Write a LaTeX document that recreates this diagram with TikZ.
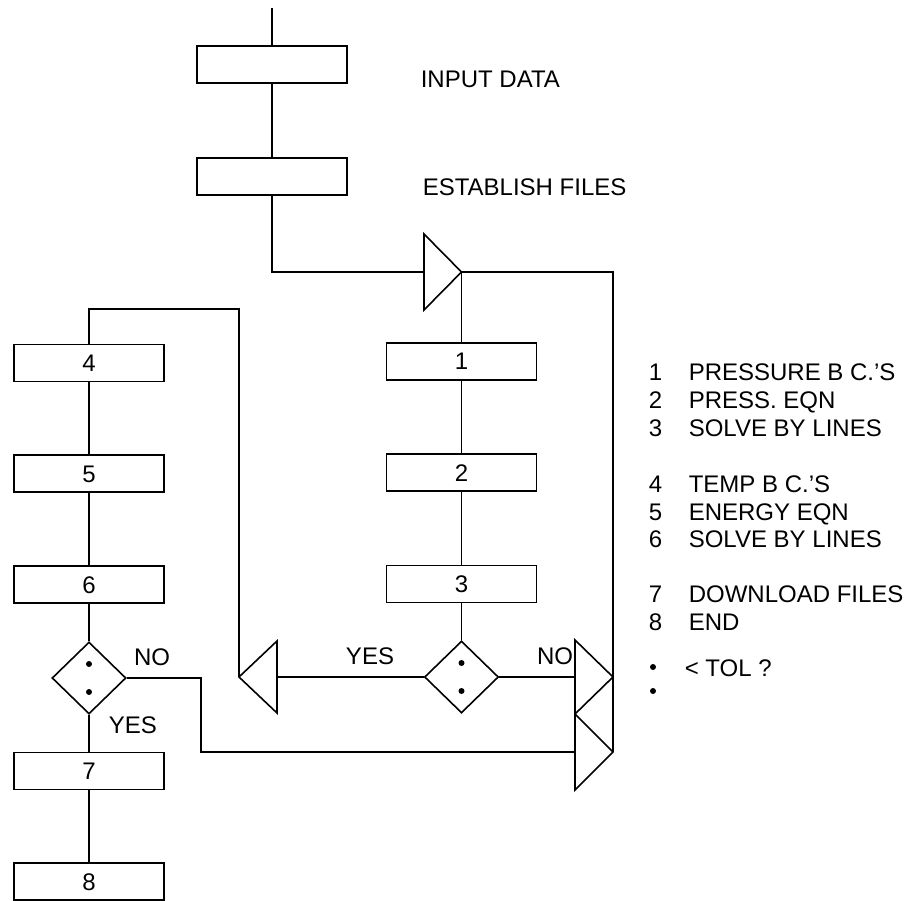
\documentclass[tikz,border=0pt]{standalone}
\usepackage{fontspec}
\setmainfont{Liberation Sans}
\usetikzlibrary{shapes.geometric}

\begin{document}
\begin{tikzpicture}[
        x=1pt, y=-1pt,
        line width=1.6pt,
        every node/.style={font=\fontsize{24}{28}\selectfont, text height=17pt, text depth=0pt, inner sep=0pt},
        stepbox/.style={draw, rectangle, minimum width=150pt, minimum height=37pt},
        test/.style={draw, diamond, minimum width=74pt, minimum height=72pt},
        lbl/.style={anchor=west},
    ]
    \useasboundingbox (0,0) rectangle (913,901);

    % top column
    \coordinate (start) at (272,8);
    \node[stepbox] (input) at (272,64.5) {};
    \node[stepbox] (estab) at (272,176.5) {};
    \node[lbl] (inputtxt) at (420,79) {INPUT DATA};
    \node[lbl] (estabtxt) at (422,187) {ESTABLISH FILES};

    % pressure column
    \node[stepbox] (b1) at (461.5,361.5) {1};
    \node[stepbox] (b2) at (461.5,472.5) {2};
    \node[stepbox] (b3) at (461.5,584) {3};
    \node[test] (t1) at (461.5,677) {};

    % temperature column
    \node[stepbox] (b4) at (89,363) {4};
    \node[stepbox] (b5) at (89,473.5) {5};
    \node[stepbox] (b6) at (89,584.5) {6};
    \node[test] (t2) at (89,678) {};
    \node[stepbox] (b7) at (89,771) {7};
    \node[stepbox] (b8) at (89,881.5) {8};

    % merge triangles
    \coordinate (mA-in) at (424,272);
    \coordinate (mA-tip) at (461.5,272);
    \draw (424,234) -- (mA-tip) -- (424,310) -- cycle;
    \coordinate (mB-in) at (277,677);
    \coordinate (mB-tip) at (239,677);
    \draw (277,641) -- (mB-tip) -- (277,713) -- cycle;
    \coordinate (mC-in) at (575,677);
    \coordinate (mC-tip) at (613,677);
    \draw (575,640) -- (mC-tip) -- (575,714) -- cycle;
    \coordinate (mD-in) at (575,752);
    \coordinate (mD-tip) at (613,752);
    \draw (575,714) -- (mD-tip) -- (575,790) -- cycle;

    % dots in the tests
    \foreach \t in {t1,t2}{
        \fill (\t) ++(0,-14) circle[radius=3pt];
        \fill (\t) ++(0,14) circle[radius=3pt];
    }

    % connectors
    \draw (start) -- (input);
    \draw (input) -- (estab);
    \draw (estab) |- (mA-in);
    \draw (mA-tip) -- (b1);
    \draw (b1) -- (b2);
    \draw (b2) -- (b3);
    \draw (b3) -- (t1);
    \draw (t1.west) -- (mB-in);
    \draw (t1.east) -- (mC-in);
    \coordinate (loopB) at (239,309);
    \draw (mB-tip) -- (loopB) -| (b4.north);
    \draw (b4) -- (b5);
    \draw (b5) -- (b6);
    \draw (b6) -- (t2);
    \draw (t2) -- (b7);
    \draw (b7) -- (b8);
    \coordinate (jog) at (201,752);
    \draw (t2.east) -| (jog) -- (mD-in);
    \draw (mD-tip) |- (mA-tip);

    % yes / no
    \node (yes1) at (370,656) {YES};
    \node (no1) at (555,656) {NO};
    \node (no2) at (152,657) {NO};
    \node[lbl] (yes2) at (108,725) {YES};

    % key
    \foreach \num/\txt/\ypos in {1/PRESSURE B C.'S/372, 2/PRESS. EQN/400, 3/SOLVE BY LINES/428,
        4/TEMP B C.'S/484, 5/ENERGY EQN/512, 6/SOLVE BY LINES/539,
        7/DOWNLOAD FILES/594, 8/END/622}{
        \node[lbl] (num\num) at (648,\ypos) {\num};
        \node[lbl] (key\num) at (688,\ypos) {\txt};
    }
    \coordinate (keydot) at (653,667);
    \fill (keydot) circle[radius=3pt];
    \fill (keydot) ++(0,24) circle[radius=3pt];
    \node[lbl] (keytol) at (684,668) {< TOL ?};
\end{tikzpicture}
\end{document}
